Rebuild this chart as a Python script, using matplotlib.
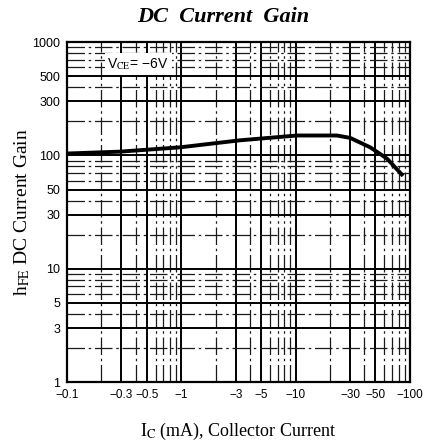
import numpy as np
import matplotlib
matplotlib.use("Agg")
import matplotlib.pyplot as plt
from matplotlib.ticker import FixedLocator, NullFormatter

plt.rcParams['mathtext.fontset'] = 'stix'

# 曲线数据
ic_ma = [0.1, 0.29, 0.98, 3.26, 10.3, 23, 30, 45, 63, 85]
hfe = [104, 108, 118, 136, 150, 150, 143, 118, 94, 68]

x_ticks = [0.1, 0.3, 0.5, 1, 3, 5, 10, 30, 50, 100]
x_tick_labels = ['\u22120.1', '\u22120.3', '\u22120.5', '\u22121', '\u22123', '\u22125', '\u221210',
                 '\u221230', '\u221250', '\u2212100']
y_ticks = [1, 3, 5, 10, 30, 50, 100, 300, 500, 1000]
y_tick_labels = ['1', '3', '5', '10', '30', '50', '100', '300', '500', '1000']

fig = plt.figure(figsize=(4.26, 4.48), dpi=100)
ax = fig.add_axes([0.157, 0.147, 0.805, 0.759])

ax.set_xscale('log')
ax.set_yscale('log')
ax.set_xlim(0.1, 100)
ax.set_ylim(1, 1000)

# 网格
minor_x = [m * 10.0 ** d for d in range(-1, 2) for m in range(2, 10)]
minor_y = [m * 10.0 ** d for d in range(0, 3) for m in range(2, 10)]
ax.xaxis.set_major_locator(FixedLocator(x_ticks))
ax.yaxis.set_major_locator(FixedLocator(y_ticks))
ax.xaxis.set_minor_locator(FixedLocator(minor_x))
ax.yaxis.set_minor_locator(FixedLocator(minor_y))
ax.xaxis.set_minor_formatter(NullFormatter())
ax.yaxis.set_minor_formatter(NullFormatter())
ax.set_xticklabels(x_tick_labels, fontfamily='Liberation Sans', fontsize=8.5)
ax.set_yticklabels(y_tick_labels, fontfamily='Liberation Sans', fontsize=9)
ax.tick_params(which='both', length=0, pad=5)

ax.grid(which='major', color='black', linewidth=1.4)
ax.grid(which='minor', color='#1a1a1a', linewidth=0.9, linestyle=(0, (14, 3, 2, 3)))
for s in ax.spines.values():
    s.set_linewidth(1.6)

# 曲线
ax.plot(ic_ma, hfe, color='black', linewidth=2.8, zorder=5)

ax.text(0.42, 640, 'V$_{\\rm CE}$= \u22126V',
        fontfamily='Liberation Sans', fontsize=10, ha='center', va='center',
        bbox=dict(facecolor='white', edgecolor='none', pad=2), zorder=6)

fig.text(0.525, 0.962, 'DC  Current  Gain', ha='center', va='center',
         fontfamily='Liberation Serif', fontsize=16, fontweight='bold', fontstyle='italic')
ax.set_xlabel(r'I$_{\rm C}$ (mA), Collector Current', fontfamily='Liberation Serif',
              fontsize=13, labelpad=14)
ax.set_ylabel(r'h$_{\rm FE}$ DC Current Gain', fontfamily='Liberation Serif',
              fontsize=14, labelpad=0)

fig.savefig('out.png', dpi=100)
